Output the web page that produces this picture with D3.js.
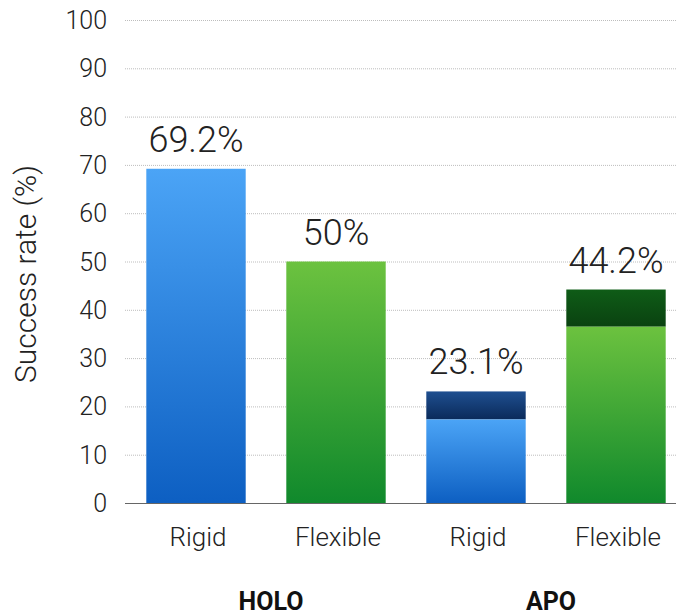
<!DOCTYPE html>
<html>
<head>
<meta charset="utf-8">
<script src="https://cdn.jsdelivr.net/npm/d3@7"></script>
<style>
  body { margin: 0; background: #fff; }
  svg { display: block; }
  text { font-family: Roboto, "Liberation Sans", sans-serif; }
</style>
</head>
<body>
<div id="chart"></div>
<script>
const groups = ['HOLO', 'HOLO', 'APO', 'APO'];
const types = ['Rigid', 'Flexible', 'Rigid', 'Flexible'];
const totals = [69.2, 50, 23.1, 44.2];
const baseParts = [69.2, 50, 17.3, 36.5];
const valueLabels = ['69.2%', '50%', '23.1%', '44.2%'];
const yTicks = [0, 10, 20, 30, 40, 50, 60, 70, 80, 90, 100];

const width = 676, height = 615;
const svg = d3.select('#chart').append('svg')
  .attr('width', width)
  .attr('height', height);

const ids = types.map((t, i) => i);
const x = d3.scaleBand().domain(ids).range([126, 686]).paddingInner(0.29).paddingOuter(0.145);
const y = d3.scaleLinear().domain([0, 100]).range([503, 20]);

const defs = svg.append('defs');
function grad(id, top, bottom) {
  const g = defs.append('linearGradient').attr('id', id)
    .attr('x1', 0).attr('y1', 0).attr('x2', 0).attr('y2', 1);
  g.append('stop').attr('offset', '0%').attr('stop-color', top);
  g.append('stop').attr('offset', '100%').attr('stop-color', bottom);
}
grad('blue', '#4ba4f6', '#0d5fc2');
grad('green', '#6cc23f', '#10892c');
grad('darkblue', '#1f4f90', '#0a2a5a');
grad('darkgreen', '#0f5c17', '#0a4210');

// gridlines
svg.append('g').selectAll('line')
  .data(yTicks.filter(d => d > 0))
  .enter().append('line')
  .attr('x1', 125).attr('x2', 676)
  .attr('y1', d => y(d) + 0.5).attr('y2', d => y(d) + 0.5)
  .attr('stroke', '#bdbdbd')
  .attr('stroke-width', 1)
  .attr('stroke-dasharray', '1,1');

// y tick labels
svg.append('g').selectAll('text')
  .data(yTicks)
  .enter().append('text')
  .attr('x', 107)
  .attr('y', d => y(d))
  .attr('dy', '0.36em')
  .attr('text-anchor', 'end')
  .attr('font-size', 25)
  .attr('font-weight', 300)
  .attr('fill', '#222')
  .text(d => d);

// y axis title
svg.append('text')
  .attr('transform', 'translate(36,274) rotate(-90)')
  .attr('text-anchor', 'middle')
  .attr('font-size', 30)
  .attr('font-weight', 300)
  .attr('fill', '#222')
  .text('Success rate (%)');

const isBlue = i => types[i] === 'Rigid';

// stacked top parts (dark)
svg.append('g').selectAll('rect')
  .data(ids.filter(i => totals[i] > baseParts[i]))
  .enter().append('rect')
  .attr('x', i => x(i))
  .attr('width', x.bandwidth())
  .attr('y', i => y(totals[i]))
  .attr('height', i => y(baseParts[i]) - y(totals[i]))
  .attr('fill', i => isBlue(i) ? 'url(#darkblue)' : 'url(#darkgreen)');

// base bars
svg.append('g').selectAll('rect')
  .data(ids)
  .enter().append('rect')
  .attr('x', i => x(i))
  .attr('width', x.bandwidth())
  .attr('y', i => y(baseParts[i]))
  .attr('height', i => y(0) - y(baseParts[i]))
  .attr('fill', i => isBlue(i) ? 'url(#blue)' : 'url(#green)');

// baseline
svg.append('line')
  .attr('x1', 125).attr('x2', 676)
  .attr('y1', y(0) + 0.5).attr('y2', y(0) + 0.5)
  .attr('stroke', '#666')
  .attr('stroke-width', 1.2);

// value labels
svg.append('g').selectAll('text')
  .data(ids)
  .enter().append('text')
  .attr('x', i => x(i) + x.bandwidth() / 2)
  .attr('y', i => y(totals[i]) - 17)
  .attr('text-anchor', 'middle')
  .attr('font-size', 36)
  .attr('font-weight', 300)
  .attr('fill', '#222')
  .text(i => valueLabels[i]);

// category labels
svg.append('g').selectAll('text')
  .data(ids)
  .enter().append('text')
  .attr('x', i => x(i) + x.bandwidth() / 2 + 2)
  .attr('y', 546)
  .attr('text-anchor', 'middle')
  .attr('font-size', 26)
  .attr('font-weight', 300)
  .attr('fill', '#222')
  .text(i => types[i]);

// group labels
const groupNames = Array.from(new Set(groups));
svg.append('g').selectAll('text')
  .data(groupNames)
  .enter().append('text')
  .attr('x', g => {
    const idx = ids.filter(i => groups[i] === g);
    return d3.mean(idx, i => x(i) + x.bandwidth() / 2) + 5;
  })
  .attr('y', 610)
  .attr('text-anchor', 'middle')
  .attr('font-size', 25)
  .attr('font-weight', 'bold')
  .attr('font-family', '"Liberation Sans", Arial, sans-serif')
  .attr('fill', '#111')
  .text(g => g);
</script>
</body>
</html>
